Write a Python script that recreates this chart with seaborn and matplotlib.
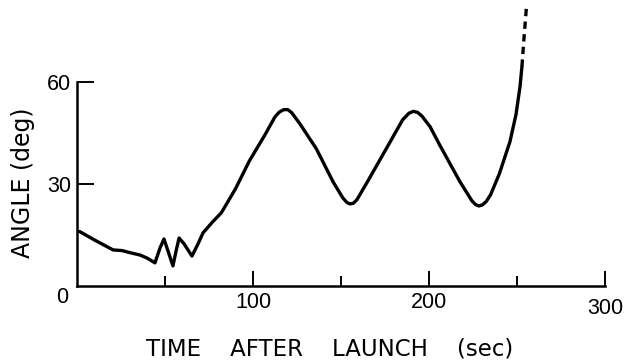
import matplotlib
matplotlib.use("Agg")
import matplotlib.pyplot as plt
import matplotlib.transforms as mtransforms
import seaborn as sns
import pandas as pd

# Solid trace: time after launch (s) vs angle (deg)
time_s = [1.5, 10, 20.5, 25.6, 30, 35.8, 39.8, 44.3, 47.2, 49.4, 51.7, 54.5, 56.3, 58,
          60.8, 65.3, 68.8, 71.6, 77, 82, 90, 98, 106.8, 112.5, 115, 117.5, 119.8, 122,
          126.7, 136, 145.5, 151, 153.2, 155, 157, 159, 165, 178, 185, 188.5, 191, 193.5,
          196, 200.6, 206, 217.6, 224.4, 226.5, 228.3, 230.3, 232.5, 235, 240,
          246, 249.4, 251.7, 252.8]
angle_deg = [16.0, 13.5, 10.6, 10.4, 9.8, 9.1, 8.2, 6.8, 11.2, 13.8, 10.3, 5.9, 10.3, 14.1,
             12.4, 8.8, 12.4, 15.6, 18.8, 21.5, 28.5, 36.8, 44.4, 49.7, 51.1, 51.8, 51.8, 50.9,
             47.6, 40.3, 30.6, 25.9, 24.6, 24.1, 24.3, 25.3, 30.6, 42.4, 48.8, 50.7, 51.3, 51.0,
             49.9, 46.8, 41.5, 30.6, 25.0, 23.9, 23.5, 23.8, 24.8, 26.8, 33.0,
             42.4, 50.3, 58.5, 64.4]

# Dashed continuation (off scale)
time_dash = [252.8, 254.0, 255.3]
angle_dash = [64.4, 73.0, 81.5]

x_major = [100, 200, 300]
x_minor = [50, 150, 250]
y_major = [30, 60]

sns.set_theme(style="white")
plt.rcParams["font.family"] = ["Liberation Sans", "DejaVu Sans"]
plt.rcParams["text.color"] = "black"
plt.rcParams["axes.labelcolor"] = "black"

fig = plt.figure(figsize=(6.25, 3.62), dpi=100)
ax = fig.add_axes([77 / 625, 76 / 362, 528 / 625, 286 / 362])

df = pd.DataFrame({"t": time_s, "a": angle_deg})
dd = pd.DataFrame({"t": time_dash, "a": angle_dash})
sns.lineplot(data=df, x="t", y="a", ax=ax, color="black", lw=2.4,
             sort=False, estimator=None)
sns.lineplot(data=dd, x="t", y="a", ax=ax, color="black", lw=2.4,
             sort=False, estimator=None, linestyle=(0, (2.2, 1.6)))
for l in ax.lines:
    l.set_clip_on(False)
    l.set_solid_joinstyle("round")
    l.set_solid_capstyle("round")

ax.set_xlim(0, 300)
ax.set_ylim(0, 84)

for s in ["top", "right"]:
    ax.spines[s].set_visible(False)
ax.spines["left"].set_bounds(0, 60)
ax.spines["bottom"].set_bounds(0, 300)
for s in ["left", "bottom"]:
    ax.spines[s].set_linewidth(1.8)
    ax.spines[s].set_color("black")

ax.set_xticks(x_major)
ax.set_xticklabels([str(v) for v in x_major])
ax.set_xticks(x_minor, minor=True)
ax.set_yticks(y_major)
ax.set_yticklabels([str(v) for v in y_major])

ax.tick_params(axis="x", which="major", direction="in", length=10.5, width=1.4,
               pad=4, labelsize=15.5, colors="black", bottom=True)
ax.tick_params(axis="x", which="minor", direction="in", length=7, width=1.4,
               bottom=True, colors="black")
ax.tick_params(axis="y", which="major", direction="in", length=12.5, width=1.4,
               pad=4, labelsize=15.5, colors="black", left=True)

# "300" label sits a little lower
lbl = ax.get_xticklabels()[2]
lbl.set_transform(lbl.get_transform() + mtransforms.ScaledTranslation(0, -6 / 100, fig.dpi_scale_trans))

ax.text(-8.5, -3.3, "0", fontsize=15.5, ha="center", va="center", clip_on=False,
        color="black")

ax.set_xlabel("TIME    AFTER    LAUNCH    (sec)", fontsize=16.5, family=["DejaVu Sans"])
ax.set_ylabel("ANGLE (deg)", fontsize=17, family=["DejaVu Sans"])
ax.xaxis.set_label_coords((330 - 77) / 528, -(349 - 286) / 286)
ax.yaxis.set_label_coords(-(77 - 23) / 528, (286 - 183) / 286)
ax.xaxis.label.set_va("center")
ax.yaxis.label.set_va("center")

fig.savefig("out.png", dpi=100, facecolor="white")
